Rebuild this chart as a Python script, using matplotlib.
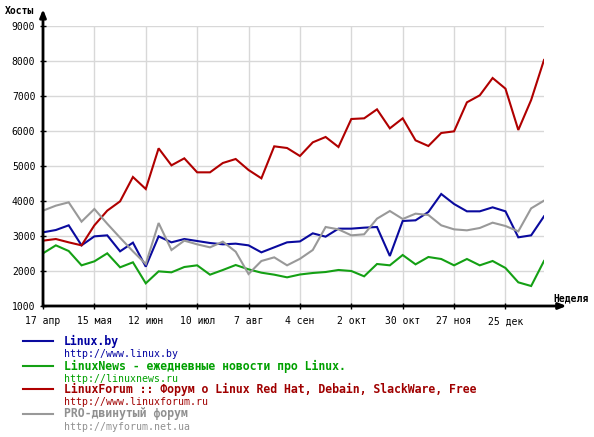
"""Weekly hosts chart for four Linux sites"""
import matplotlib
matplotlib.use("Agg")
import matplotlib.pyplot as plt
from matplotlib.lines import Line2D

W, H = 594, 437

week_labels = ["17 апр", "15 мая", "12 июн", "10 июл", "7 авг",
               "4 сен", "2 окт", "30 окт", "27 ноя", "25 дек"]

linux_by = [3105, 3171, 3305, 2733, 2990, 3019, 2562, 2810, 2124, 2990,
            2819, 2914, 2857, 2800, 2762, 2781, 2733, 2533, 2676, 2819,
            2845, 3076, 2981, 3210, 3210, 3238, 3257, 2429, 3429, 3448,
            3686, 4200, 3914, 3705, 3705, 3819, 3705, 2962, 3019, 3562]
linux_news = [2505, 2733, 2571, 2162, 2276, 2505, 2105, 2248, 1648, 1990,
              1962, 2114, 2162, 1895, 2029, 2171, 2048, 1952, 1895, 1819,
              1900, 1943, 1971, 2029, 2000, 1848, 2200, 2162, 2457, 2190,
              2400, 2343, 2162, 2343, 2162, 2286, 2086, 1676, 1571, 2286]
linux_forum = [2867, 2914, 2819, 2733, 3305, 3724, 3990, 4686, 4343, 5505,
               5019, 5219, 4819, 4819, 5086, 5200, 4886, 4648, 5562, 5514,
               5286, 5676, 5829, 5543, 6343, 6362, 6619, 6076, 6362, 5733,
               5571, 5943, 5990, 6819, 7019, 7514, 7210, 6029, 6886, 8029]
pro_forum = [3724, 3867, 3962, 3410, 3771, 3351, 2951, 2562, 2200, 3371,
             2600, 2867, 2762, 2676, 2838, 2552, 1914, 2286, 2390, 2162,
             2348, 2600, 3257, 3190, 3019, 3048, 3495, 3714, 3486, 3638,
             3600, 3305, 3190, 3162, 3229, 3381, 3286, 3133, 3790, 4010]

names = ["Linux.by", "LinuxNews - ежедневные новости про Linux.",
         "LinuxForum :: Форум о Linux Red Hat, Debain, SlackWare, Free",
         "PRO-двинутый форум"]
urls = ["http://www.linux.by", "http://linuxnews.ru",
        "http://www.linuxforum.ru", "http://myforum.net.ua"]
colors = ["#0a0a9e", "#14a014", "#b00000", "#999999"]
text_colors = ["#0000a0", "#00a000", "#a00000", "#909090"]

MONO = "DejaVu Sans Mono"

fig = plt.figure(figsize=(W / 100, H / 100), dpi=100)
ax = fig.add_axes([43 / W, 1 - 306 / H, 501 / W, 280 / H])

x = list(range(len(linux_by)))
for series, c in zip([linux_by, linux_news, linux_forum, pro_forum], colors):
    ax.plot(x, series, color=c, lw=1.5, solid_joinstyle="miter", zorder=3)

ax.set_xlim(0, 39)
ax.set_ylim(1000, 9000)
ax.set_yticks(range(1000, 9001, 1000))
ax.set_xticks(range(0, 37, 4))
ax.set_xticklabels(week_labels)
ax.grid(True, color="#d8d8d8", lw=1)
ax.set_axisbelow(True)
for s in ax.spines.values():
    s.set_visible(False)
ax.tick_params(axis="both", direction="inout", length=5, width=1,
               labelsize=7, pad=3)
ax.tick_params(axis="x", pad=5)
for lab in ax.get_xticklabels() + ax.get_yticklabels():
    lab.set_fontfamily(MONO)

# axes with arrows
arrow = dict(arrowstyle="-|>,head_length=0.45,head_width=0.18", lw=2, color="black",
             shrinkA=0, shrinkB=0)
ax.annotate("", xy=(0, 1.06), xytext=(0, 0), xycoords="axes fraction",
            arrowprops=arrow, annotation_clip=False)
ax.annotate("", xy=(1.045, 0), xytext=(0, 0), xycoords="axes fraction",
            arrowprops=arrow, annotation_clip=False)
fig.text(5 / W, 1 - 11 / H, "Хосты", fontsize=7, fontweight="bold",
         family=MONO, va="center", ha="left")
fig.text(589 / W, 1 - 298 / H, "Неделя", fontsize=7, fontweight="bold",
         family=MONO, va="center", ha="right")

# legend
rows = [341, 366, 389, 414]
for name, url, c, tc, y in zip(names, urls, colors, text_colors, rows):
    fy = 1 - y / H
    fig.add_artist(Line2D([23 / W, 53 / W], [fy, fy], color=c, lw=1.5,
                          transform=fig.transFigure))
    fig.text(64 / W, fy, name, color=tc, fontsize=8.3, fontweight="bold",
             family=MONO, va="center", ha="left")
    fig.text(64 / W, 1 - (y + 13) / H, url, color=tc, fontsize=7.1,
             family=MONO, va="center", ha="left")

fig.savefig("out.png", dpi=100)
